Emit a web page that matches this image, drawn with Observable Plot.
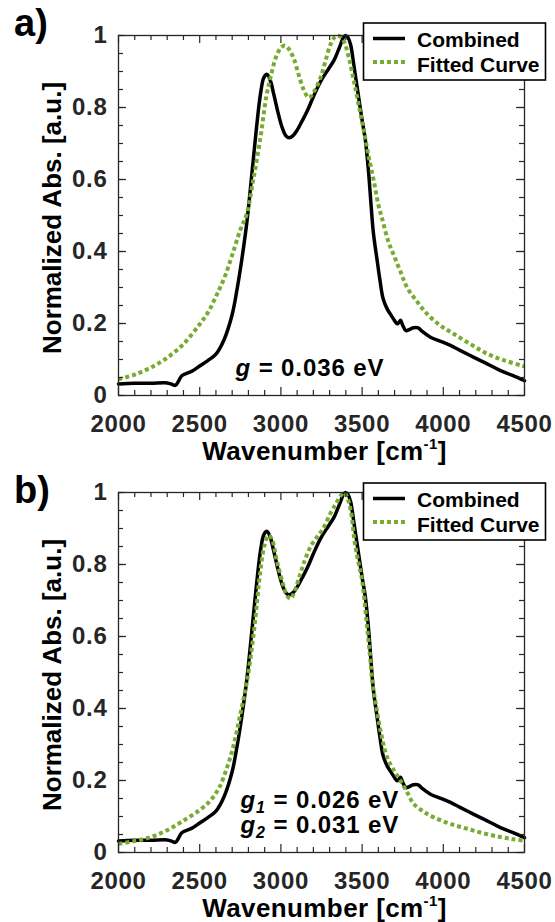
<!DOCTYPE html>
<html>
<head>
<meta charset="utf-8">
<script src="https://cdn.jsdelivr.net/npm/d3@7"></script>
<script src="https://cdn.jsdelivr.net/npm/@observablehq/plot@0.6"></script>
<style>
  html, body { margin: 0; padding: 0; background: white; }
  #chart svg { display: block; }
</style>
</head>
<body>
<div id="chart"></div>
<script>
// ---- data ----
const combinedX = [2000,2100,2200,2300,2330,2350,2370,2390,2450,2500,2550,2600,2650,2700,2730,2760,2790,2820,2850,2875,2895,2915,2935,2957,2980,3008,3030,3050,3075,3100,3130,3162,3200,3244,3290,3326,3350,3370,3385,3398,3412,3429,3450,3470,3500,3520,3540,3555,3570,3593,3610,3630,3655,3680,3700,3716,3730,3737,3750,3770,3790,3815,3845,3870,3921,3980,4044,4100,4188,4270,4352,4430,4500];
const combinedY = [0.032,0.034,0.034,0.035,0.031,0.028,0.04,0.055,0.067,0.082,0.097,0.115,0.155,0.225,0.295,0.38,0.48,0.61,0.745,0.84,0.883,0.892,0.875,0.835,0.79,0.744,0.722,0.716,0.722,0.737,0.762,0.79,0.83,0.872,0.905,0.93,0.955,0.978,0.995,1.0,0.995,0.975,0.915,0.855,0.765,0.71,0.62,0.53,0.45,0.374,0.32,0.268,0.24,0.222,0.208,0.199,0.205,0.209,0.195,0.18,0.183,0.188,0.188,0.178,0.162,0.151,0.139,0.126,0.106,0.088,0.069,0.055,0.041];

const fitAX = [2000,2100,2200,2300,2400,2500,2550,2600,2650,2700,2750,2790,2830,2874,2910,2936,2970,3000,3025,3050,3080,3110,3140,3172,3205,3244,3275,3305,3330,3350,3370,3390,3420,3449,3480,3511,3540,3572,3600,3624,3660,3695,3740,3777,3840,3900,3980,4065,4170,4270,4380,4500];
const fitAY = [0.045,0.058,0.078,0.105,0.143,0.198,0.23,0.275,0.325,0.39,0.46,0.505,0.6,0.716,0.83,0.883,0.94,0.966,0.972,0.962,0.935,0.89,0.85,0.827,0.845,0.883,0.93,0.975,0.995,1.0,0.995,0.982,0.935,0.874,0.805,0.735,0.665,0.596,0.53,0.49,0.43,0.39,0.34,0.30,0.26,0.227,0.195,0.171,0.142,0.116,0.097,0.081];

const fitBX = [2000,2100,2200,2300,2402,2500,2567,2620,2669,2710,2751,2792,2830,2854,2870,2900,2924,2945,2975,3010,3040,3059,3080,3120,3150,3182,3220,3260,3305,3340,3370,3387,3405,3430,3455,3480,3500,3531,3550,3562,3585,3613,3654,3700,3736,3780,3818,3880,3941,4040,4147,4250,4352,4430,4500];
const fitBY = [0.024,0.032,0.043,0.062,0.089,0.118,0.145,0.18,0.237,0.3,0.386,0.478,0.6,0.70,0.77,0.855,0.881,0.87,0.81,0.75,0.712,0.705,0.72,0.775,0.815,0.849,0.875,0.9,0.942,0.97,0.992,1.0,0.99,0.95,0.86,0.8,0.756,0.625,0.54,0.478,0.41,0.339,0.265,0.225,0.2,0.165,0.135,0.113,0.098,0.08,0.066,0.053,0.043,0.037,0.033];

const xTicks = [2000,2500,3000,3500,4000,4500];
const yTicks = [0,0.2,0.4,0.6,0.8,1];
const xMinor = d3.range(2000, 4501, 100);
const yMinor = d3.range(0, 1.0001, 0.05);

const seriesNames = ["Combined", "Fitted Curve"];
const notesA = ["g = 0.036 eV"];
const notesB = ["g1 = 0.026 eV", "g2 = 0.031 eV"];

// ---- drawing ----
const FONT = "'Liberation Sans', Arial, Helvetica, sans-serif";
const AX = "#262626";
const GREEN = "#77AC30";
const W = 555, H = 461, ML = 118, MR = 31;

function pts(xs, ys) { return xs.map((x, i) => ({x, y: ys[i]})); }

function makePanel({fitX, fitY, marginTop, marginBottom, letter, letterY, notes, legendTop}) {
  const plotH = H - marginTop - marginBottom;
  const plotW = W - ML - MR;
  const noteMarks = notes.map((t, i) => Plot.text([t], {
    frameAnchor: "bottom-left", textAnchor: "start", lineAnchor: "middle",
    dx: notes.length === 1 ? 117 : 122,
    dy: notes.length === 1 ? -27 : (i === 0 ? -52 : -27.5),
    fontSize: 24, fontWeight: "bold", fill: "black"
  }));
  const svg = Plot.plot({
    width: W, height: H,
    marginLeft: ML, marginRight: MR, marginTop, marginBottom,
    style: {fontFamily: FONT, fontWeight: "bold", fontSize: "24px", color: AX, background: "white", overflow: "visible"},
    x: {domain: [2000, 4500]},
    y: {domain: [0, 1]},
    marks: [
      Plot.line(pts(combinedX, combinedY), {x: "x", y: "y", stroke: "black", strokeWidth: 3.5, curve: "catmull-rom"}),
      Plot.line(pts(fitX, fitY), {x: "x", y: "y", stroke: GREEN, strokeWidth: 4, strokeDasharray: "4,3", strokeLinecap: "butt", curve: "catmull-rom"}),
      Plot.frame({stroke: AX, strokeWidth: 1.3}),
      // inward ticks: bottom/top
      Plot.tickX(xMinor.filter(d => d % 500 !== 0), {x: d => d, insetTop: plotH - 5, stroke: AX, strokeWidth: 1.2}),
      Plot.tickX(xMinor.filter(d => d % 500 !== 0), {x: d => d, insetBottom: plotH - 5, stroke: AX, strokeWidth: 1.2}),
      Plot.tickX(xTicks, {x: d => d, insetTop: plotH - 8, stroke: AX, strokeWidth: 1.2}),
      Plot.tickX(xTicks, {x: d => d, insetBottom: plotH - 8, stroke: AX, strokeWidth: 1.2}),
      // inward ticks: left/right
      Plot.tickY(yMinor, {y: d => d, insetRight: plotW - 5, stroke: AX, strokeWidth: 1.2}),
      Plot.tickY(yMinor, {y: d => d, insetLeft: plotW - 5, stroke: AX, strokeWidth: 1.2}),
      Plot.tickY(yTicks, {y: d => d, insetRight: plotW - 8, stroke: AX, strokeWidth: 1.2}),
      Plot.tickY(yTicks, {y: d => d, insetLeft: plotW - 8, stroke: AX, strokeWidth: 1.2}),
      Plot.axisX({ticks: xTicks, tickSize: 0, tickPadding: 19, fontSize: 24, label: null, tickFormat: d => String(d)}),
      Plot.axisY({ticks: yTicks, tickSize: 0, tickPadding: 11, fontSize: 24, label: null,
        tickFormat: d => (d === 0 ? "0" : d === 1 ? "1" : d.toFixed(1))}),
      Plot.text(["Wavenumber [cm-1]"], {frameAnchor: "bottom", textAnchor: "middle", lineAnchor: "middle", dx: 3, dy: 56, fontSize: 26, fontWeight: "bold", fill: "black"}),
      Plot.text(["Normalized Abs. [a.u.]"], {frameAnchor: "left", textAnchor: "middle", lineAnchor: "middle", rotate: -90, dx: -65.5, dy: 2.5, fontSize: 26, fontWeight: "bold", fill: "black"}),
      ...noteMarks
    ]
  });

  const s = d3.select(svg);
  // tick label size and slight widening to match the reference face
  s.selectAll('g[aria-label="x-axis tick label"], g[aria-label="y-axis tick label"]')
    .attr("font-size", 24).attr("letter-spacing", "0.7px");
  // superscript in x label
  s.selectAll("text").filter(function() { return this.textContent === "Wavenumber [cm-1]"; })
    .attr("letter-spacing", "0.4px")
    .each(function() {
      const t = d3.select(this); t.text(null);
      t.append("tspan").text("Wavenumber [cm");
      t.append("tspan").attr("font-size", 15).attr("dy", -11).text("-1");
      t.append("tspan").attr("dy", 11).text("]");
    });
  // italic g with subscripts
  s.selectAll("text").filter(function() { return /^g\d? = /.test(this.textContent); })
    .attr("letter-spacing", "0.9px")
    .each(function() {
      const txt = this.textContent;
      const m = txt.match(/^g(\d?)( = .*)$/);
      const t = d3.select(this); t.text(null);
      t.append("tspan").attr("font-style", "italic").text("g");
      if (m[1]) {
        t.append("tspan").attr("font-style", "italic").attr("font-size", 16).attr("dy", 5).text(m[1]);
        t.append("tspan").attr("dy", -5).text(m[2]);
      } else {
        t.append("tspan").text(m[2]);
      }
    });
  // panel letter
  s.append("text").attr("x", 14).attr("y", letterY).attr("text-anchor", "start")
    .attr("font-family", FONT).attr("font-weight", "bold").attr("font-size", 38).attr("fill", "black")
    .text(letter);
  // legend
  const lg = s.append("g").attr("font-family", FONT).attr("font-weight", "bold").attr("font-size", 21).attr("text-anchor", "start");
  lg.append("rect").attr("x", 363.5).attr("y", legendTop).attr("width", 182).attr("height", 57)
    .attr("fill", "white").attr("stroke", "black").attr("stroke-width", 1.6);
  lg.append("line").attr("x1", 373).attr("x2", 405).attr("y1", legendTop + 15.5).attr("y2", legendTop + 15.5)
    .attr("stroke", "black").attr("stroke-width", 3.5);
  lg.append("text").attr("x", 417).attr("y", legendTop + 23.5).attr("fill", "black").text(seriesNames[0]);
  lg.append("line").attr("x1", 373).attr("x2", 405).attr("y1", legendTop + 39).attr("y2", legendTop + 39)
    .attr("stroke", GREEN).attr("stroke-width", 4).attr("stroke-dasharray", "4,3");
  lg.append("text").attr("x", 417).attr("y", legendTop + 49).attr("fill", "black").text(seriesNames[1]);
  return svg;
}

const chart = document.getElementById("chart");
chart.append(makePanel({fitX: fitAX, fitY: fitAY, marginTop: 35, marginBottom: 66, letter: "a)", letterY: 36, notes: notesA, legendTop: 23}));
chart.append(makePanel({fitX: fitBX, fitY: fitBY, marginTop: 31, marginBottom: 70, letter: "b)", letterY: 42, notes: notesB, legendTop: 22}));
</script>
</body>
</html>
